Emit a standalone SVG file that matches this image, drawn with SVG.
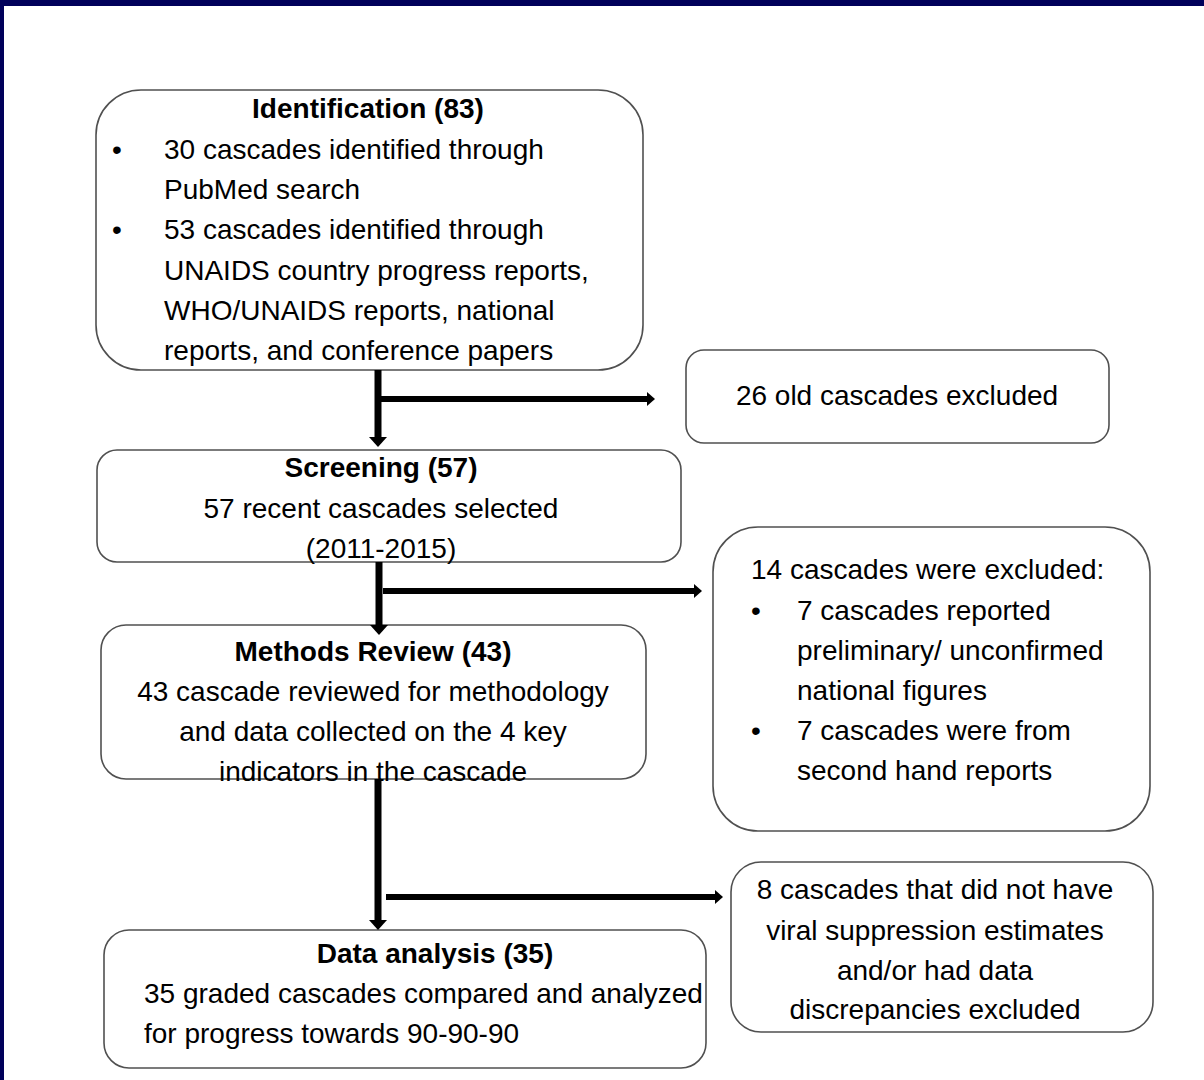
<svg xmlns="http://www.w3.org/2000/svg" width="1204" height="1080" viewBox="0 0 1204 1080">
<style>
.box{fill:#fff;stroke:#505050;stroke-width:1.6}
text{font-family:"Liberation Sans",Arial,sans-serif;font-size:28px;fill:#000}
.b{font-weight:bold}
.m{text-anchor:middle}
.conn{stroke:#000;fill:none}
.v{stroke-width:7}
.h{stroke-width:6}
</style>
<defs>
<marker id="ahV" markerUnits="userSpaceOnUse" viewBox="0 0 10 18" refX="0" refY="9" markerWidth="10" markerHeight="18" orient="auto"><path d="M0,0 L10,9 L0,18 Z" fill="#000"/></marker>
<marker id="ahH" markerUnits="userSpaceOnUse" viewBox="0 0 8 14" refX="0" refY="7" markerWidth="8" markerHeight="14" orient="auto"><path d="M0,0 L8,7 L0,14 Z" fill="#000"/></marker>
</defs>
<rect x="0" y="0" width="1204" height="1080" fill="#fff"/>
<rect x="0" y="0" width="1204" height="6" fill="#00005A"/>
<rect x="0" y="0" width="4" height="1080" fill="#00005A"/>

<g id="identification">
<rect class="box" x="96" y="90" width="547" height="280" rx="45"/>
<text class="b m" x="368" y="118">Identification (83)</text>
<text x="112" y="159">•</text>
<text x="164" y="159">30 cascades identified through</text>
<text x="164" y="199">PubMed search</text>
<text x="112" y="239">•</text>
<text x="164" y="239">53 cascades identified through</text>
<text x="164" y="280">UNAIDS country progress reports,</text>
<text x="164" y="320">WHO/UNAIDS reports, national</text>
<text x="164" y="360">reports, and conference papers</text>
</g>

<g id="old-excluded">
<rect class="box" x="686" y="350" width="423" height="93" rx="18"/>
<text class="m" x="897" y="405">26 old cascades excluded</text>
</g>

<g id="screening">
<rect class="box" x="97" y="450" width="584" height="112" rx="20"/>
<text class="b m" x="381" y="477">Screening (57)</text>
<text class="m" x="381" y="518">57 recent cascades selected</text>
<text class="m" x="381" y="558">(2011-2015)</text>
</g>

<g id="excluded-14">
<rect class="box" x="713" y="527" width="437" height="304" rx="45"/>
<text x="751" y="579">14 cascades were excluded:</text>
<text x="751" y="620">•</text>
<text x="797" y="620">7 cascades reported</text>
<text x="797" y="660">preliminary/ unconfirmed</text>
<text x="797" y="700">national figures</text>
<text x="751" y="740">•</text>
<text x="797" y="740">7 cascades were from</text>
<text x="797" y="780">second hand reports</text>
</g>

<g id="methods-review">
<rect class="box" x="101" y="625" width="545" height="154" rx="25"/>
<text class="b m" x="373" y="661">Methods Review (43)</text>
<text class="m" x="373" y="701">43 cascade reviewed for methodology</text>
<text class="m" x="373" y="741">and data collected on the 4 key</text>
<text class="m" x="373" y="781">indicators in the cascade</text>
</g>

<g id="excluded-8">
<rect class="box" x="731" y="862" width="422" height="170" rx="30"/>
<text class="m" x="935" y="899">8 cascades that did not have</text>
<text class="m" x="935" y="940">viral suppression estimates</text>
<text class="m" x="935" y="980">and/or had data</text>
<text class="m" x="935" y="1019">discrepancies excluded</text>
</g>

<g id="data-analysis">
<rect class="box" x="104" y="930" width="602" height="138" rx="25"/>
<text class="b m" x="435" y="963">Data analysis (35)</text>
<text x="144" y="1003">35 graded cascades compared and analyzed</text>
<text x="144" y="1043">for progress towards 90-90-90</text>
</g>

<g id="connectors">
<path class="conn v" d="M378,370 V437" marker-end="url(#ahV)"/>
<path class="conn h" d="M381,399 H647" marker-end="url(#ahH)"/>
<path class="conn v" d="M379,562 V625" marker-end="url(#ahV)"/>
<path class="conn h" d="M383,591 H694" marker-end="url(#ahH)"/>
<path class="conn v" d="M378,779 V920" marker-end="url(#ahV)"/>
<path class="conn h" d="M386,897 H715" marker-end="url(#ahH)"/>
</g>
</svg>
